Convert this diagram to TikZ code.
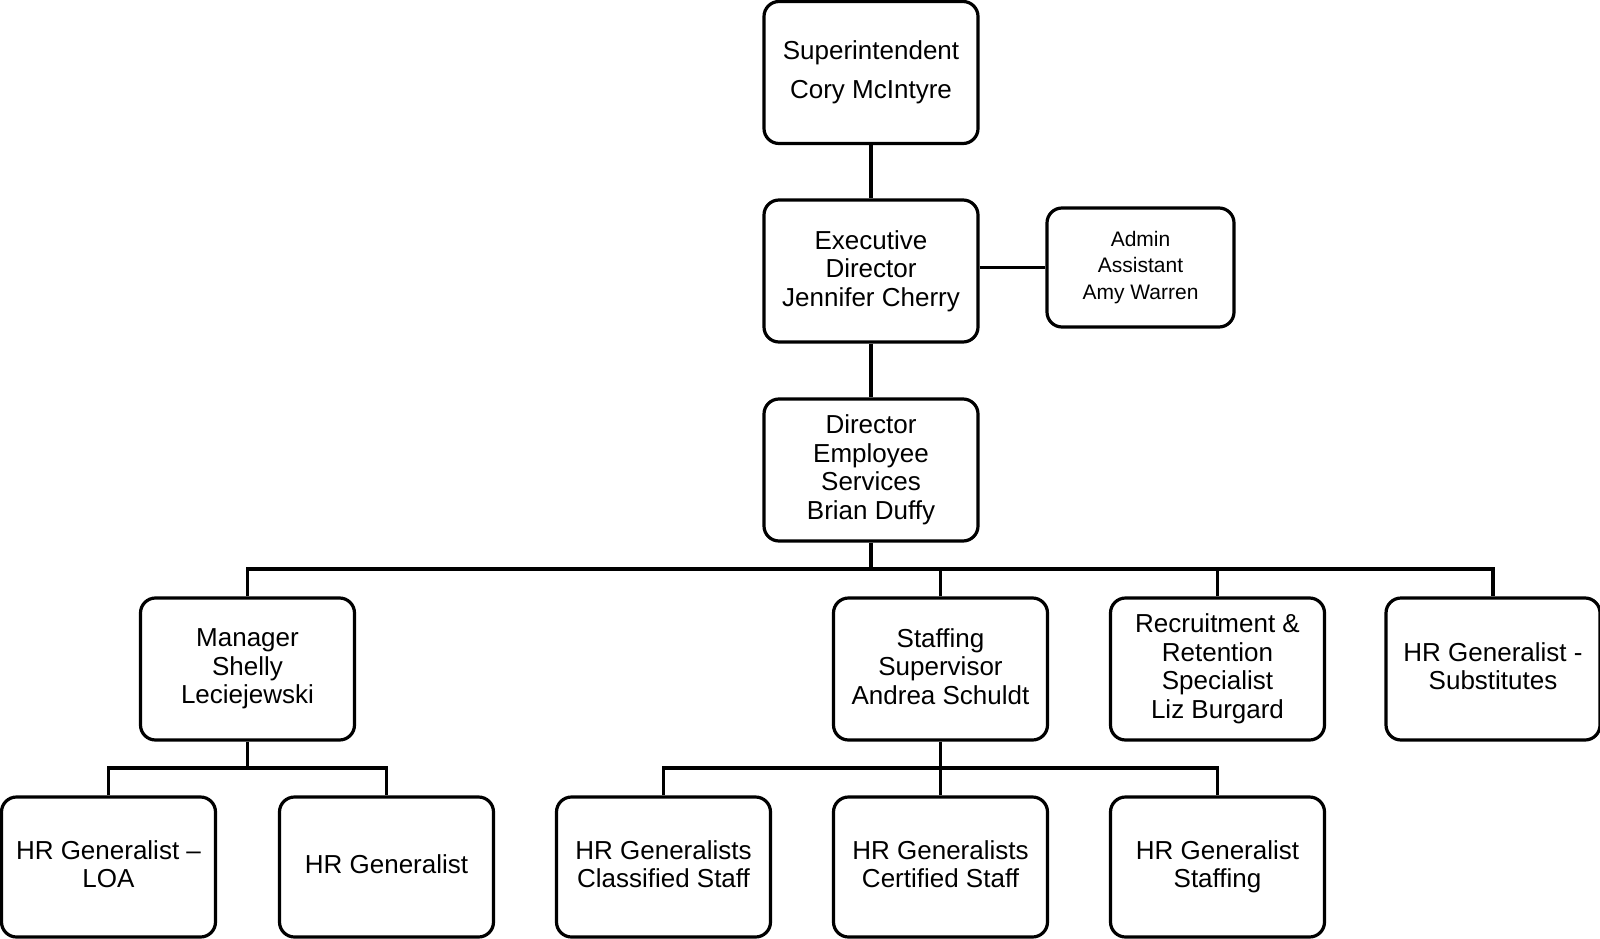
\documentclass[tikz,border=0pt]{standalone}
\usepackage{fontspec}
\setmainfont{Liberation Sans}
\begin{document}
\begin{tikzpicture}[x=1pt, y=-1pt, line width=3.2pt]
    \tikzstyle{box}=[draw, rounded corners=15pt, minimum width=214pt, minimum height=142pt, inner sep=0pt, align=center, font=\fontsize{26}{28.5}\selectfont]
    \tikzstyle{smallbox}=[box, minimum width=187pt, minimum height=119pt, font=\fontsize{21}{26.5}\selectfont]
    \tikzstyle{conn}=[line width=3.2pt, line join=miter]

    \useasboundingbox (0, 0) rectangle (1600, 939);

    % top of the chart
    \node[box] (sup) at (871, 72.5) {Superintendent\\[10pt]Cory McIntyre};
    \node[box] (exec) at (871, 271) {Executive\\Director\\Jennifer Cherry};
    \node[smallbox] (admin) at (1140.5, 267.5) {Admin\\Assistant\\Amy Warren};
    \node[box] (dir) at (871, 470) {Director\\Employee\\Services\\Brian Duffy};

    % second row
    \node[box] (mgr) at (247.5, 669) {Manager\\Shelly\\Leciejewski};
    \node[box] (staff) at (940.5, 669) {Staffing\\Supervisor\\Andrea Schuldt\vphantom{g}};
    \node[box] (recr) at (1217.5, 669) {Recruitment \&\\Retention\\Specialist\\Liz Burgard};
    \node[box] (subs) at (1493, 669) {HR Generalist -\\Substitutes\vphantom{g}};

    % third row
    \node[box, minimum height=140pt] (loa) at (108.5, 867) {HR Generalist --\\LOA\vphantom{g}};
    \node[box, minimum height=140pt] (gen) at (386.5, 867) {HR Generalist\vphantom{g}};
    \node[box, minimum height=140pt] (cls) at (663.5, 867) {HR Generalists\\Classified Staff\vphantom{g}};
    \node[box, minimum height=140pt] (cert) at (940.5, 867) {HR Generalists\\Certified Staff\vphantom{g}};
    \node[box, minimum height=140pt] (stg) at (1217.5, 867) {HR Generalist\\Staffing};

    \coordinate (bus) at (0, 569);
    \coordinate (sbus) at (0, 768);

    \draw[conn] (sup.south) -- (exec.north);
    \draw[conn] (admin.west -| exec.east) -- (admin.west);
    \draw[conn] (exec.south) -- (dir.north);

    \draw[conn] (dir.south) -- (dir |- bus);
    \draw[conn] (mgr.north) |- (subs |- bus) -- (subs.north);
    \foreach \n in {staff, recr} {
        \draw[conn] (\n.north) -- (\n |- bus);
    }

    \draw[conn] (mgr.south) -- (mgr |- sbus);
    \draw[conn] (loa.north) |- (gen |- sbus) -- (gen.north);

    \draw[conn] (staff.south) -- (staff |- sbus);
    \draw[conn] (cls.north) |- (stg |- sbus) -- (stg.north);
    \draw[conn] (cert.north) -- (cert |- sbus);

\end{tikzpicture}
\end{document}
